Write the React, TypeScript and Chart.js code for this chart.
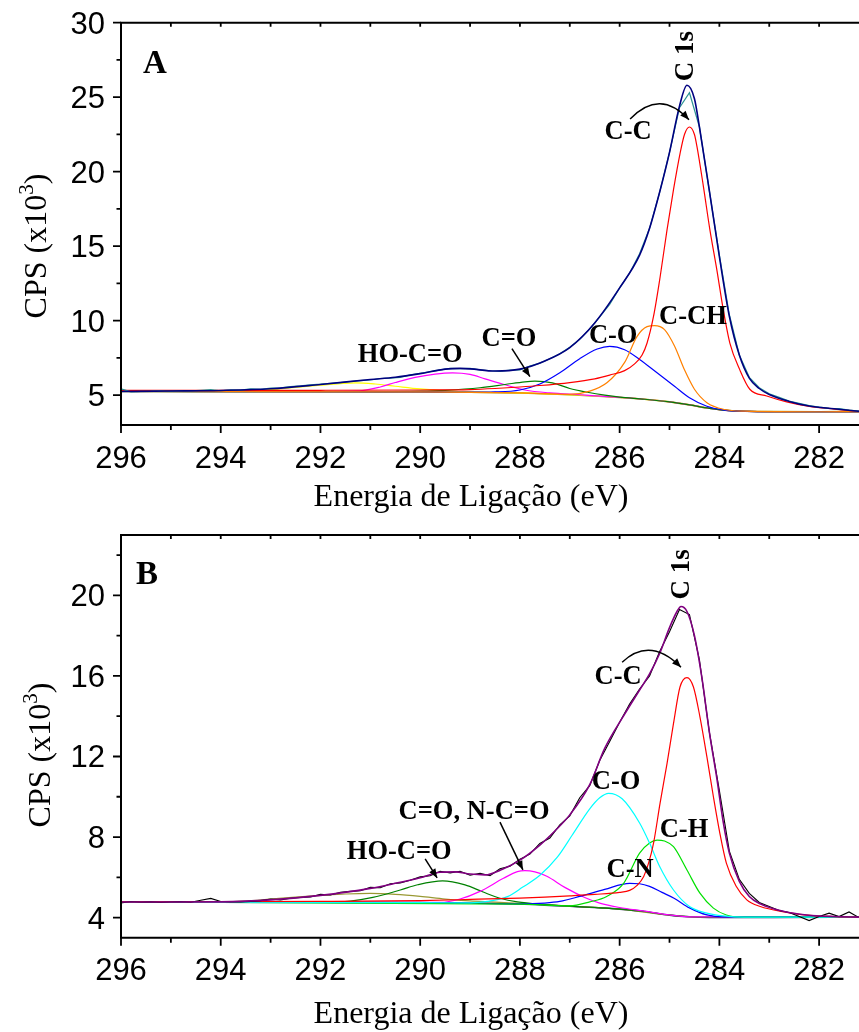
import React, { useEffect, useRef } from 'react';
import { Chart, registerables } from 'chart.js';
Chart.register(...registerables);

// ---------- shared energy grid for measured spectra (eV) ----------
const GRID_E = [
  296.0, 295.8, 295.6, 295.4, 295.2, 295.0, 294.8, 294.6, 294.4, 294.2,
  294.0, 293.8, 293.6, 293.4, 293.2, 293.0, 292.8, 292.6, 292.4, 292.2,
  292.0, 291.8, 291.6, 291.4, 291.2, 291.0, 290.8, 290.6, 290.4, 290.2,
  290.0, 289.8, 289.6, 289.4, 289.2, 289.0, 288.8, 288.6, 288.4, 288.2,
  288.0, 287.8, 287.6, 287.4, 287.2, 287.0, 286.8, 286.6, 286.4, 286.2,
  286.0, 285.8, 285.6, 285.4, 285.2, 285.0, 284.8, 284.6, 284.4, 284.2,
  284.0, 283.8, 283.6, 283.4, 283.2, 283.0, 282.8, 282.6, 282.4, 282.2,
  282.0, 281.8, 281.6, 281.4, 281.2,
];

// ---------- Panel A ----------
const A_DATA = [
  5.42, 5.22, 5.26, 5.27, 5.30, 5.26, 5.31, 5.29, 5.33, 5.38,
  5.30, 5.36, 5.34, 5.42, 5.40, 5.47, 5.50, 5.58, 5.62, 5.70,
  5.74, 5.80, 5.84, 5.92, 5.98, 6.02, 6.12, 6.14, 6.20, 6.36,
  6.47, 6.58, 6.70, 6.80, 6.78, 6.80, 6.70, 6.64, 6.60, 6.68,
  6.70, 6.95, 7.15, 7.45, 7.78, 8.22, 8.75, 9.45, 10.25, 11.10,
  12.20, 13.20, 14.50, 16.20, 18.60, 21.30, 24.30, 25.30, 23.00, 18.70,
  14.40, 10.40, 7.70, 6.20, 5.50, 5.10, 4.85, 4.60, 4.45, 4.30,
  4.20, 4.12, 4.10, 4.00, 3.93,
];
const A_ENV_E = [296, 295, 294, 293, 292, 291, 290.5, 290, 289.5, 289.2, 289, 288.5, 288, 287.5, 287, 286.5, 286, 285.6, 285.4, 285.2, 285, 284.8, 284.65, 284.5, 284.4, 284.2, 284, 283.8, 283.6, 283.4, 283.2, 283, 282.6, 282.2, 281.7, 281.2];
const A_ENV_V = [5.25, 5.28, 5.32, 5.43, 5.72, 6.05, 6.2, 6.45, 6.75, 6.8, 6.77, 6.62, 6.75, 7.3, 8.2, 9.85, 12.2, 14.4, 16.2, 18.6, 21.3, 24.4, 25.8, 24.9, 23.0, 18.7, 14.3, 10.3, 7.7, 6.15, 5.45, 5.05, 4.58, 4.27, 4.09, 3.92];
const A_BG_E = [296, 292, 290, 289, 288, 287.5, 287, 286.5, 286, 285.5, 285, 284.6, 284.2, 283.8, 283.4, 283, 282, 281.2];
const A_BG_V = [5.25, 5.24, 5.22, 5.2, 5.15, 5.1, 5.03, 4.95, 4.85, 4.73, 4.55, 4.35, 4.12, 3.97, 3.92, 3.9, 3.89, 3.9];
const A_CC_E = [296, 292, 290, 289, 288.5, 288, 287.6, 287, 286.5, 286.2, 285.9, 285.7, 285.55, 285.45, 285.32, 285.19, 285.05, 284.92, 284.79, 284.7, 284.6, 284.5, 284.45, 284.32, 284.19, 284.05, 283.92, 283.79, 283.59, 283.39, 283.05, 282.65, 282.2, 281.7, 281.2];
const A_CC_V = [5.32, 5.33, 5.35, 5.38, 5.45, 5.55, 5.65, 5.85, 6.1, 6.35, 6.65, 7.1, 7.7, 8.5, 10.3, 12.9, 16.1, 18.8, 21.2, 22.5, 23.0, 22.5, 21.7, 19.0, 16.1, 13.4, 10.7, 8.5, 6.7, 5.4, 4.95, 4.55, 4.25, 4.07, 3.92];
const A_CCH_E = [296, 290, 288, 287, 286.6, 286.25, 285.9, 285.65, 285.45, 285.3, 285.1, 284.9, 284.7, 284.5, 284.25, 283.9, 283.5, 282, 281.2];
const A_CCH_V = [5.25, 5.22, 5.15, 5.06, 5.27, 5.85, 7.2, 8.95, 9.6, 9.67, 9.4, 8.3, 6.7, 5.4, 4.5, 4.04, 3.93, 3.89, 3.9];
const A_CO_E = [296, 290, 289, 288.5, 288, 287.6, 287.2, 286.8, 286.45, 286.2, 285.9, 285.6, 285.25, 284.9, 284.6, 284.25, 283.9, 283.5, 282, 281.2];
const A_CO_V = [5.25, 5.22, 5.2, 5.22, 5.35, 5.75, 6.5, 7.45, 8.1, 8.28, 8.05, 7.4, 6.5, 5.6, 4.83, 4.26, 4.0, 3.92, 3.89, 3.9];
const A_CdO_E = [296, 291, 290, 289.5, 288.8, 288.3, 287.9, 287.7, 287.35, 287.0, 286.65, 286.3, 286, 285.5, 285, 284.6, 284.2, 283.8, 283, 281.2];
const A_CdO_V = [5.25, 5.24, 5.27, 5.33, 5.5, 5.72, 5.9, 5.94, 5.83, 5.45, 5.2, 5.0, 4.87, 4.73, 4.55, 4.35, 4.12, 3.97, 3.9, 3.9];
const A_COOH_E = [296, 292, 291.2, 290.8, 290.5, 290.1, 289.7, 289.35, 289, 288.7, 288.3, 287.9, 287.4, 286.8, 286, 285.5, 285, 284.6, 284.2, 283.8, 283, 281.2];
const A_COOH_V = [5.25, 5.25, 5.3, 5.55, 5.85, 6.2, 6.42, 6.5, 6.4, 6.1, 5.7, 5.35, 5.15, 5.03, 4.86, 4.73, 4.55, 4.35, 4.12, 3.97, 3.9, 3.9];
const A_SAT_E = [296, 294, 293.5, 293, 292.5, 292, 291.6, 291.3, 290.9, 290.5, 290, 289.4, 289, 288, 287, 286, 285, 284.6, 284.2, 283.8, 283, 281.2];
const A_SAT_V = [5.25, 5.26, 5.3, 5.37, 5.52, 5.67, 5.78, 5.83, 5.75, 5.6, 5.42, 5.28, 5.22, 5.15, 5.03, 4.85, 4.55, 4.35, 4.12, 3.97, 3.9, 3.9];

// ---------- Panel B ----------
const B_DATA = [
  4.72, 4.80, 4.76, 4.78, 4.75, 4.77, 4.79, 4.76, 4.86, 4.95,
  4.80, 4.78, 4.77, 4.80, 4.84, 4.92, 4.88, 4.96, 5.00, 5.02,
  5.15, 5.12, 5.25, 5.30, 5.33, 5.50, 5.48, 5.68, 5.72, 5.85,
  6.02, 6.08, 6.30, 6.22, 6.30, 6.10, 6.20, 6.08, 6.42, 6.55,
  6.90, 7.15, 7.68, 7.95, 8.60, 9.05, 9.95, 10.55, 11.80, 12.75,
  13.70, 14.60, 15.35, 16.00, 17.20, 18.20, 19.30, 19.05, 16.80, 13.20,
  10.30, 7.30, 5.90, 5.20, 4.75, 4.55, 4.35, 4.25, 4.05, 3.85,
  4.05, 4.22, 4.05, 4.28, 4.00,
];
const B_ENV_E = [296, 295, 294, 293, 292, 291, 290.5, 290, 289.6, 289.3, 289, 288.7, 288.35, 288, 287.6, 287.3, 287, 286.6, 286.3, 285.9, 285.6, 285.4, 285.2, 285, 284.85, 284.77, 284.65, 284.5, 284.35, 284.2, 284.05, 283.92, 283.8, 283.6, 283.4, 283.18, 282.7, 282.25, 281.7, 281.2];
const B_ENV_V = [4.77, 4.77, 4.78, 4.88, 5.1, 5.45, 5.7, 5.98, 6.25, 6.27, 6.16, 6.12, 6.4, 6.85, 7.6, 8.3, 9.1, 10.6, 12.4, 14.1, 15.3, 16.1, 17.1, 18.4, 19.2, 19.45, 19.2, 18.0, 15.9, 13.2, 10.9, 8.7, 7.2, 5.8, 5.05, 4.68, 4.3, 4.13, 4.05, 4.02];
const B_BG_E = [296, 292, 290, 289, 288, 287.5, 287, 286.5, 286, 285.5, 285, 284.6, 284.2, 283, 281.2];
const B_BG_V = [4.76, 4.76, 4.74, 4.72, 4.67, 4.62, 4.56, 4.5, 4.42, 4.3, 4.12, 4.04, 4.01, 4.01, 4.02];
const B_CC_E = [296, 292, 290, 289, 288, 287.5, 287, 286.5, 286, 285.8, 285.65, 285.52, 285.42, 285.32, 285.19, 285.05, 284.92, 284.79, 284.65, 284.52, 284.39, 284.25, 284.12, 283.99, 283.86, 283.66, 283.45, 283.18, 282.7, 282.25, 281.7, 281.2];
const B_CC_V = [4.78, 4.8, 4.84, 4.9, 4.97, 5.02, 5.08, 5.15, 5.25, 5.35, 5.6, 6.03, 6.7, 7.7, 9.67, 11.65, 13.64, 15.45, 15.92, 15.45, 13.97, 11.98, 10.0, 8.18, 6.7, 5.54, 4.88, 4.55, 4.28, 4.12, 4.05, 4.02];
const B_CO_E = [296, 290, 289, 288.65, 288.25, 287.95, 287.6, 287.25, 286.95, 286.6, 286.4, 286.22, 285.95, 285.6, 285.4, 285.2, 284.92, 284.6, 284.25, 283.92, 283.5, 281.2];
const B_CO_V = [4.76, 4.74, 4.73, 4.8, 5.04, 5.5, 6.1, 7.0, 8.1, 9.4, 9.95, 10.17, 9.9, 8.7, 7.7, 6.55, 5.37, 4.55, 4.22, 4.08, 4.02, 4.02];
const B_CH_E = [296, 288, 287, 286.6, 286.26, 285.92, 285.6, 285.4, 285.25, 285.1, 284.92, 284.65, 284.39, 284.12, 283.86, 283.5, 281.2];
const B_CH_V = [4.76, 4.67, 4.58, 4.78, 5.05, 5.7, 7.2, 7.7, 7.85, 7.8, 7.52, 6.36, 5.21, 4.47, 4.13, 4.02, 4.02];
const B_CN_E = [296, 290, 288, 287.5, 287.2, 286.8, 286.3, 285.8, 285.6, 285.4, 285.15, 284.9, 284.6, 284.25, 283.9, 281.2];
const B_CN_V = [4.76, 4.74, 4.68, 4.72, 4.8, 5.05, 5.4, 5.7, 5.68, 5.55, 5.25, 4.95, 4.48, 4.13, 4.03, 4.02];
const B_NCO_E = [296, 290.5, 289.6, 289.2, 288.8, 288.33, 288.05, 287.9, 287.7, 287.46, 287.1, 286.7, 286.4, 286, 285.5, 285, 284.5, 281.2];
const B_NCO_V = [4.76, 4.75, 4.75, 4.92, 5.3, 5.95, 6.28, 6.33, 6.27, 6.05, 5.5, 5.0, 4.72, 4.5, 4.32, 4.13, 4.03, 4.02];
const B_COOH_E = [296, 292, 291.4, 290.95, 290.4, 290.05, 289.55, 289.1, 288.75, 288.4, 288.05, 287.5, 287, 286.5, 286, 285.5, 285, 284.6, 284.2, 281.2];
const B_COOH_V = [4.76, 4.77, 4.82, 5.0, 5.37, 5.63, 5.82, 5.62, 5.28, 4.96, 4.78, 4.65, 4.57, 4.5, 4.42, 4.3, 4.12, 4.04, 4.01, 4.02];
const B_SAT_E = [296, 294, 293.5, 293, 292.5, 292, 291.5, 291, 290.5, 290, 289.5, 289, 288.5, 288, 287, 286, 285, 284.2, 281.2];
const B_SAT_V = [4.76, 4.78, 4.82, 4.92, 5.02, 5.1, 5.17, 5.2, 5.15, 5.05, 4.92, 4.83, 4.77, 4.7, 4.57, 4.42, 4.12, 4.01, 4.02];

// ---------- ticks ----------
const X_MAJOR = [296, 294, 292, 290, 288, 286, 284, 282];
const X_MINOR = [295, 293, 291, 289, 287, 285, 283];
const X_TOP = [296, 295, 294, 293, 292, 291, 290, 289, 288, 287, 286, 285, 284, 283, 282];
const A_Y_MAJOR = [5, 10, 15, 20, 25, 30];
const A_Y_MINOR = [7.5, 12.5, 17.5, 22.5, 27.5];
const B_Y_MAJOR = [4, 8, 12, 16, 20];
const B_Y_MINOR = [6, 10, 14, 18, 22];

type Curve = { e: number[]; v: number[]; color: string; w: number; smooth: boolean };
type Label = { t: string; e: number; v: number; size?: number; rot?: boolean };
type Arrow = { from: [number, number]; to: [number, number]; ctrl?: [number, number] };
type Panel = {
  name: string; top: number; height: number; pad: { top: number; bottom: number };
  yMin: number; yMax: number; yMajor: number[]; yMinor: number[];
  curves: Curve[]; labels: Label[]; arrows: Arrow[];
  yTitleX: number; yTitleY: number; xTitleDy: number;
};

const PANELS: Panel[] = [
  {
    name: 'A', top: 0, height: 515, pad: { top: 22.7, bottom: 90 },
    yMin: 3, yMax: 30, yMajor: A_Y_MAJOR, yMinor: A_Y_MINOR,
    curves: [
      { e: A_ENV_E, v: A_ENV_V, color: '#000080', w: 1.6, smooth: true },
      { e: GRID_E, v: A_DATA, color: '#2e9494', w: 1.2, smooth: false },
      { e: A_CC_E, v: A_CC_V, color: '#ff0000', w: 1.2, smooth: true },
      { e: A_CCH_E, v: A_CCH_V, color: '#ff8000', w: 1.2, smooth: true },
      { e: A_CO_E, v: A_CO_V, color: '#0000ff', w: 1.2, smooth: true },
      { e: A_CdO_E, v: A_CdO_V, color: '#008000', w: 1.2, smooth: true },
      { e: A_COOH_E, v: A_COOH_V, color: '#ff00ff', w: 1.2, smooth: true },
      { e: A_SAT_E, v: A_SAT_V, color: '#ffff00', w: 1.2, smooth: true },
      { e: A_BG_E, v: A_BG_V, color: '#9a9a10', w: 1.6, smooth: true },
    ],
    labels: [
      { t: 'A', e: 295.32, v: 27.22, size: 33 },
      { t: 'C 1s', e: 284.67, v: 27.76, size: 27, rot: true },
      { t: 'C-C', e: 285.83, v: 22.67 },
      { t: 'C-CH', e: 284.53, v: 10.27 },
      { t: 'C-O', e: 286.13, v: 8.93 },
      { t: 'C=O', e: 288.22, v: 8.73 },
      { t: 'HO-C=O', e: 290.2, v: 7.66 },
    ],
    arrows: [
      { from: [285.79, 23.54], ctrl: [285.19, 25.62], to: [284.61, 23.48] },
      { from: [288.16, 8.13], to: [287.8, 6.25] },
    ],
    yTitleX: 46, yTitleY: 246, xTitleDy: 81,
  },
  {
    name: 'B', top: 515, height: 517, pad: { top: 20, bottom: 94.3 },
    yMin: 3, yMax: 23, yMajor: B_Y_MAJOR, yMinor: B_Y_MINOR,
    curves: [
      { e: B_ENV_E, v: B_ENV_V, color: '#800080', w: 1.6, smooth: true },
      { e: GRID_E, v: B_DATA, color: '#000000', w: 1.1, smooth: false },
      { e: B_CC_E, v: B_CC_V, color: '#ff0000', w: 1.2, smooth: true },
      { e: B_CO_E, v: B_CO_V, color: '#00ffff', w: 1.2, smooth: true },
      { e: B_CH_E, v: B_CH_V, color: '#00e000', w: 1.2, smooth: true },
      { e: B_CN_E, v: B_CN_V, color: '#0000ff', w: 1.2, smooth: true },
      { e: B_NCO_E, v: B_NCO_V, color: '#ff00ff', w: 1.2, smooth: true },
      { e: B_COOH_E, v: B_COOH_V, color: '#008000', w: 1.2, smooth: true },
      { e: B_SAT_E, v: B_SAT_V, color: '#999933', w: 1.2, smooth: true },
      { e: B_BG_E, v: B_BG_V, color: '#1a1a70', w: 1.6, smooth: true },
    ],
    labels: [
      { t: 'B', e: 295.48, v: 20.99, size: 33 },
      { t: 'C 1s', e: 284.75, v: 21.04, size: 27, rot: true },
      { t: 'C-C', e: 286.03, v: 15.93 },
      { t: 'C-O', e: 286.07, v: 10.73 },
      { t: 'C=O, N-C=O', e: 288.92, v: 9.24 },
      { t: 'C-H', e: 284.71, v: 8.35 },
      { t: 'C-N', e: 285.79, v: 6.37 },
      { t: 'HO-C=O', e: 290.42, v: 7.26 },
    ],
    arrows: [
      { from: [285.95, 16.68], ctrl: [285.39, 17.98], to: [284.77, 16.43] },
      { from: [288.4, 8.74], to: [287.94, 6.37] },
      { from: [289.9, 6.91], to: [289.66, 5.97] },
    ],
    yTitleX: 50, yTitleY: 240, xTitleDy: 85,
  },
];

const SANS = '"Liberation Sans", Arial, sans-serif';
const SERIF = '"Liberation Serif", "Times New Roman", serif';

function makeDecor(p: Panel) {
  return {
    id: 'decor' + p.name,
    afterDraw(chart: any) {
      const { ctx, chartArea: ca } = chart;
      const sx = chart.scales.x;
      const sy = chart.scales.y;
      const X = (e: number) => sx.getPixelForValue(e);
      const Y = (v: number) => sy.getPixelForValue(v);
      ctx.save();
      ctx.strokeStyle = '#000';
      ctx.fillStyle = '#000';
      // frame
      ctx.lineWidth = 2;
      ctx.beginPath();
      ctx.moveTo(ca.left - 1, ca.top); ctx.lineTo(ca.right + 2, ca.top);
      ctx.moveTo(ca.left, ca.top - 1); ctx.lineTo(ca.left, ca.bottom + 1);
      ctx.moveTo(ca.left - 1, ca.bottom); ctx.lineTo(ca.right + 2, ca.bottom);
      ctx.stroke();
      // ticks
      ctx.lineWidth = 1.8;
      ctx.beginPath();
      for (const v of p.yMajor) { const yy = Y(v); ctx.moveTo(ca.left, yy); ctx.lineTo(ca.left - 8, yy); }
      for (const v of p.yMinor) { const yy = Y(v); ctx.moveTo(ca.left, yy); ctx.lineTo(ca.left - 4.5, yy); }
      for (const e of X_MAJOR) { const xx = X(e); ctx.moveTo(xx, ca.bottom); ctx.lineTo(xx, ca.bottom + 8); }
      for (const e of X_MINOR) { const xx = X(e); ctx.moveTo(xx, ca.bottom); ctx.lineTo(xx, ca.bottom + 5); }
      for (const e of X_TOP) { const xx = X(e); ctx.moveTo(xx, ca.top); ctx.lineTo(xx, ca.top + 4); }
      ctx.stroke();
      // tick labels
      ctx.font = '31px ' + SANS;
      ctx.textAlign = 'right';
      ctx.textBaseline = 'alphabetic';
      for (const v of p.yMajor) ctx.fillText(String(v), ca.left - 16, Y(v) + 11);
      ctx.textAlign = 'center';
      for (const e of X_MAJOR) ctx.fillText(String(e), X(e), ca.bottom + 42.5);
      // x title
      ctx.font = '32px ' + SERIF;
      ctx.fillText('Energia de Ligação (eV)', 471, ca.bottom + p.xTitleDy);
      // y title (rotated, with superscript)
      ctx.save();
      ctx.translate(p.yTitleX, p.yTitleY);
      ctx.rotate(-Math.PI / 2);
      ctx.textAlign = 'left';
      const t1 = 'CPS (x10';
      ctx.font = '32px ' + SERIF;
      const w1 = ctx.measureText(t1).width;
      const w4 = ctx.measureText(')').width;
      ctx.font = '21px ' + SERIF;
      const w3 = ctx.measureText('3').width;
      const W = w1 + w3 + w4;
      const x0 = -W / 2;
      ctx.font = '32px ' + SERIF;
      ctx.fillText(t1, x0, 0);
      ctx.font = '21px ' + SERIF;
      ctx.fillText('3', x0 + w1, -13);
      ctx.font = '32px ' + SERIF;
      ctx.fillText(')', x0 + w1 + w3, 0);
      ctx.restore();
      // annotations
      ctx.textAlign = 'center';
      ctx.textBaseline = 'middle';
      for (const l of p.labels) {
        ctx.font = 'bold ' + (l.size || 26.5) + 'px ' + SERIF;
        const px = X(l.e), py = Y(l.v);
        if (l.rot) {
          ctx.save();
          ctx.translate(px, py);
          ctx.rotate(-Math.PI / 2);
          ctx.fillText(l.t, 0, 0);
          ctx.restore();
        } else {
          ctx.fillText(l.t, px, py);
        }
      }
      ctx.lineWidth = 1.5;
      for (const a of p.arrows) {
        const fx = X(a.from[0]), fy = Y(a.from[1]);
        const tx = X(a.to[0]), ty = Y(a.to[1]);
        let dx: number, dy: number;
        ctx.beginPath();
        ctx.moveTo(fx, fy);
        if (a.ctrl) {
          const cx = X(a.ctrl[0]), cy = Y(a.ctrl[1]);
          ctx.quadraticCurveTo(cx, cy, tx, ty);
          dx = tx - cx; dy = ty - cy;
        } else {
          ctx.lineTo(tx, ty);
          dx = tx - fx; dy = ty - fy;
        }
        ctx.stroke();
        const L = Math.hypot(dx, dy) || 1;
        const ux = dx / L, uy = dy / L;
        const hl = 9, hw = 3.6;
        ctx.beginPath();
        ctx.moveTo(tx, ty);
        ctx.lineTo(tx - ux * hl - uy * hw, ty - uy * hl + ux * hw);
        ctx.lineTo(tx - ux * hl + uy * hw, ty - uy * hl - ux * hw);
        ctx.closePath();
        ctx.fill();
      }
      ctx.restore();
    },
  };
}

function PanelChart({ p }: { p: Panel }) {
  const ref = useRef<HTMLCanvasElement | null>(null);
  useEffect(() => {
    if (!ref.current) return;
    const datasets = p.curves.map((c) => ({
      data: c.e.map((e, i) => ({ x: e, y: c.v[i] })),
      borderColor: c.color,
      backgroundColor: c.color,
      borderWidth: c.w,
      pointRadius: 0,
      fill: false,
      tension: c.smooth ? 0.4 : 0,
      cubicInterpolationMode: c.smooth ? 'monotone' : 'default',
    }));
    const chart = new Chart(ref.current, {
      type: 'line',
      data: { datasets } as any,
      options: {
        animation: false,
        responsive: false,
        events: [],
        parsing: false as any,
        layout: { padding: { left: 121, right: 0, top: p.pad.top, bottom: p.pad.bottom } },
        plugins: { legend: { display: false }, tooltip: { enabled: false } },
        scales: {
          x: { type: 'linear', min: 281.2, max: 296, reverse: true, display: false },
          y: { type: 'linear', min: p.yMin, max: p.yMax, display: false },
        },
      } as any,
      plugins: [makeDecor(p)],
    });
    return () => chart.destroy();
  }, [p]);
  return (
    <canvas
      ref={ref}
      width={859}
      height={p.height}
      style={{ position: 'absolute', left: 0, top: p.top, width: 859, height: p.height }}
    />
  );
}

export default function App() {
  return (
    <div style={{ position: 'absolute', left: 0, top: 0, width: 859, height: 1032, background: '#fff' }}>
      {PANELS.map((p) => (
        <PanelChart key={p.name} p={p} />
      ))}
    </div>
  );
}
